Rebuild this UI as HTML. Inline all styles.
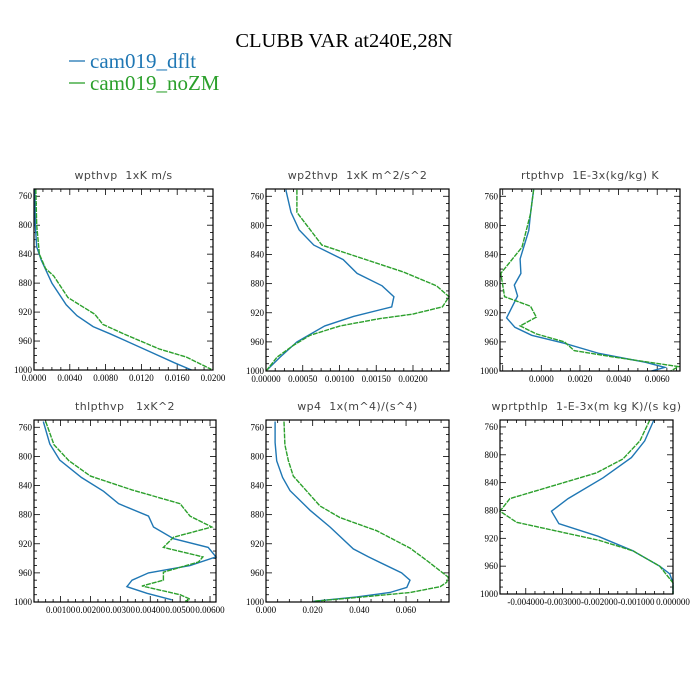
<!DOCTYPE html>
<html><head><meta charset="utf-8">
<style>
html,body{margin:0;padding:0;background:#fff;}
svg{display:block;}
.tl{font-family:"Liberation Serif",serif;font-size:9px;fill:#000;}
.pt{font-family:"DejaVu Sans","Liberation Sans",sans-serif;font-size:11px;fill:#444;white-space:pre;letter-spacing:0.4px;}
</style></head>
<body>
<svg id="chart" width="700" height="700" viewBox="0 0 700 700" xmlns="http://www.w3.org/2000/svg">
<rect width="700" height="700" fill="#fff"/>
<text x="344" y="47" text-anchor="middle" font-family="Liberation Serif, serif" font-size="20.5">CLUBB VAR at240E,28N</text>
<g>
<line x1="69" y1="61" x2="85" y2="61" stroke="#1f77b4" stroke-width="1.3"/>
<text x="90" y="68" font-family="Liberation Serif, serif" font-size="21" fill="#1f77b4">cam019_dflt</text>
<line x1="69" y1="83" x2="85" y2="83" stroke="#2ca02c" stroke-width="1.3"/>
<text x="90" y="90" font-family="Liberation Serif, serif" font-size="21" fill="#2ca02c">cam019_noZM</text>
</g>
<g id="panels"></g>
</svg>
<script>
// Pressure levels and values per panel (hPa, value)
const p1Blue = [[750,0.0001],[800,0.00015],[830,0.0003],[848,0.0008],[880,0.002],[910,0.0036],[925,0.0048],[940,0.0066],[950,0.0085],[960,0.0103],[975,0.013],[990,0.0157],[1000,0.0176]];
const p1Green = [[750,0.0002],[800,0.0003],[840,0.0006],[860,0.0013],[870,0.0022],[900,0.0038],[923,0.0068],[937,0.0077],[950,0.01],[971,0.014],[982,0.017],[999,0.0198]];
const p2Blue = [[751,0.00027],[782,0.00034],[806,0.00045],[827,0.00065],[847,0.00105],[866,0.00124],[883,0.00158],[898,0.00174],[912,0.00171],[925,0.00119],[938,0.0008],[960,0.00042],[981,0.00019],[998,0.00002]];
const p2Green = [[751,0.00042],[782,0.00042],[827,0.00076],[846,0.00133],[864,0.00187],[883,0.00232],[898,0.00249],[912,0.0024],[922,0.00199],[928,0.00155],[938,0.00101],[951,0.0006],[965,0.00037],[981,0.00015],[999,0.00001]];
const p3Blue = [[751,-0.0004],[784,-0.00056],[807,-0.00065],[846,-0.0011],[866,-0.00106],[882,-0.0014],[897,-0.00123],[927,-0.0018],[940,-0.00137],[951,-0.0005],[962,0.0012],[976,0.003],[988,0.0054],[995,0.0064],[1000,0.0057]];
const p3Green = [[751,-0.0004],[784,-0.00056],[830,-0.001],[866,-0.0021],[898,-0.0019],[911,-0.00056],[926,-0.00026],[938,-0.0011],[949,-0.00026],[960,0.0012],[972,0.0017],[981,0.0038],[994,0.0071],[1000,0.0067]];
const p4Blue = [[752,0.00042],[783,0.00064],[805,0.00097],[829,0.0017],[848,0.00244],[865,0.00294],[882,0.00394],[897,0.00411],[913,0.00478],[925,0.00594],[938,0.0062],[950,0.00533],[960,0.00394],[970,0.00339],[979,0.00322],[988,0.00389],[997,0.00472]];
const p4Green = [[752,0.0005],[784,0.00078],[806,0.00128],[827,0.002],[846,0.00339],[865,0.005],[882,0.00533],[897,0.00606],[911,0.00478],[925,0.00444],[938,0.00576],[945,0.00561],[959,0.00444],[970,0.00444],[978,0.00372],[990,0.005],[996,0.00533],[999,0.00517]];
const p5Blue = [[752,0.0039],[781,0.0039],[806,0.0046],[829,0.0071],[847,0.0103],[874,0.0189],[897,0.0274],[927,0.0374],[938,0.0439],[960,0.0581],[970,0.0617],[980,0.0603],[987,0.0531],[993,0.0389],[999,0.0203]];
const p5Green = [[752,0.0077],[784,0.0081],[806,0.0096],[827,0.0117],[868,0.0231],[884,0.0317],[902,0.0474],[926,0.0617],[943,0.0689],[966,0.0781],[973,0.0774],[979,0.0746],[987,0.0617],[993,0.0417],[999,0.0203]];
const p6Blue = [[750,-0.00052],[780,-0.00077],[804,-0.00113],[833,-0.0019],[863,-0.00285],[881,-0.0033],[899,-0.0031],[917,-0.00204],[938,-0.00109],[960,-0.00036],[971,-0.00009],[984,0],[1000,0]];
const p6Green = [[750,-0.00063],[780,-0.0009],[806,-0.00136],[826,-0.00208],[863,-0.00443],[881,-0.0047],[897,-0.00425],[923,-0.002],[938,-0.00109],[960,-0.00036],[984,0],[1000,0]];
const titles = ["wpthvp  1xK m/s","wp2thvp  1xK m^2/s^2","rtpthvp  1E-3x(kg/kg) K","thlpthvp   1xK^2","wp4  1x(m^4)/(s^4)","wprtpthlp  1-E-3x(m kg K)/(s kg)"];
const xMins = [0,0,-0.00214,0.00011,0,-0.0047];
const xMaxs = [0.02,0.00249,0.00718,0.0062,0.0784,0];
const xMajors = [0.004,0.0005,0.002,0.001,0.02,0.001];
const xDecimals = [4,5,4,5,3,6];
const yTicks = [760,800,840,880,920,960,1000];
const yMin = 750, yMax = 1000;

const layout = [
 {l:34,r:213,t:189,b:370},{l:266,r:449,t:189,b:371},{l:500,r:680,t:189,b:371},
 {l:34,r:216,t:420,b:602},{l:266,r:449,t:420,b:602},{l:500,r:673,t:420,b:594}];
const series = [[p1Blue,p1Green],[p2Blue,p2Green],[p3Blue,p3Green],[p4Blue,p4Green],[p5Blue,p5Green],[p6Blue,p6Green]];
const NS="http://www.w3.org/2000/svg";
const root=document.getElementById('panels');
function mk(tag,attrs,parent){const e=document.createElementNS(NS,tag);for(const k in attrs)e.setAttribute(k,attrs[k]);parent.appendChild(e);return e;}
layout.forEach((L,i)=>{
  const g=mk('g',{},root);
  
  
  const xs=v=>L.l+(v-xMins[i])/(xMaxs[i]-xMins[i])*(L.r-L.l);
  const ys=p=>L.t+(p-yMin)/(yMax-yMin)*(L.b-L.t);
  const tt=mk('text',{x:(L.l+L.r)/2,y:L.t-10,'text-anchor':'middle',class:'pt'},g);
  tt.textContent=titles[i];
  
  
  for(let p=760;p<=1000;p+=10){
    const y=ys(p), len=(p%40===0)?6:3;
    const a=mk('line',{x1:L.l,y1:y,x2:L.l+len,y2:y,stroke:'#000','stroke-width':0.8},g);
    
    const b=mk('line',{x1:L.r,y1:y,x2:L.r-len,y2:y,stroke:'#000','stroke-width':0.8},g);
    
  }
  yTicks.forEach(p=>{
    const t=mk('text',{x:L.l-2,y:ys(p)+3,'text-anchor':'end',class:'tl'},g);
    t.textContent=p;
    
  });
  const mj=xMajors[i], mn=mj/4;
  const s=Math.ceil(xMins[i]/mn-1e-6), e=Math.floor(xMaxs[i]/mn+1e-6);
  for(let k=s;k<=e;k++){
    const v=k*mn, x=xs(v), major=(k%4===0), len=major?6:3;
    const a=mk('line',{x1:x,y1:L.b,x2:x,y2:L.b-len,stroke:'#000','stroke-width':0.8},g);
    
    const b=mk('line',{x1:x,y1:L.t,x2:x,y2:L.t+len,stroke:'#000','stroke-width':0.8},g);
    
    if(major && !(i===2 && x-L.l<10)){
      const t=mk('text',{x:x,y:L.b+11,'text-anchor':'middle',class:'tl'},g);
      t.textContent=(Math.abs(v)<1e-12?0:v).toFixed(xDecimals[i]);
      
    }
  }
  const cols=['#1f77b4','#2ca02c'];
  series[i].forEach((d,j)=>{
    const pl=mk('polyline',{points:d.map(q=>xs(q[1]).toFixed(1)+','+ys(q[0]).toFixed(1)).join(' '),fill:'none',stroke:cols[j],'stroke-width':1.4,'stroke-dasharray':j?'5,1':'none'},g);
    
    
  });
  const fr=mk('rect',{x:L.l,y:L.t,width:L.r-L.l,height:L.b-L.t,fill:'none',stroke:'#000','stroke-width':1.2},g);
  
});
</script>
</body></html>
